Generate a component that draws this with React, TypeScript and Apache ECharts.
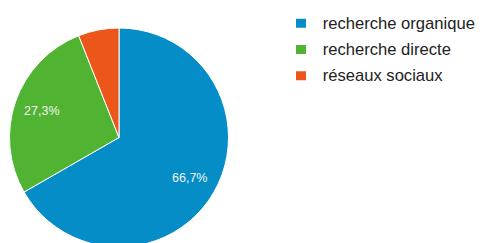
import React, { useEffect, useRef } from "react";
import * as echarts from "echarts";

const categories = ["recherche organique", "recherche directe", "réseaux sociaux"];
const values = [66.7, 27.3, 6.0];
const colors = ["#058dc7", "#50b432", "#ed561b"];

export default function App() {
  const ref = useRef<HTMLDivElement>(null);
  useEffect(() => {
    if (!ref.current) return;
    const chart = echarts.init(ref.current, undefined, { renderer: "svg" });
    const data = categories.map((name, i) => ({
      name,
      value: values[i],
      itemStyle: { color: colors[i] },
    }));
    chart.setOption({
      animation: false,
      backgroundColor: "#ffffff",
      legend: {
        orient: "vertical",
        left: 289,
        top: 9.7,
        icon: "rect",
        itemWidth: 12,
        itemHeight: 11,
        itemGap: 9.3,
        data: categories,
        textStyle: {
          fontFamily: "'Liberation Sans', Arial, sans-serif",
          fontSize: 16.6,
          lineHeight: 16,
          color: "#222222",
          padding: [0, 0, 0, 10.7],
        },
      },
      series: [
        {
          type: "pie",
          center: [119, 137.5],
          radius: [0, 109.5],
          startAngle: 90,
          clockwise: true,
          silent: true,
          label: { show: false },
          labelLine: { show: false },
          itemStyle: { borderColor: "#ffffff", borderWidth: 1 },
          data,
        },
        {
          type: "pie",
          center: [119, 137.5],
          radius: [48, 109.5],
          startAngle: 90,
          clockwise: true,
          silent: true,
          minShowLabelAngle: 30,
          legendHoverLink: false,
          itemStyle: { color: "rgba(0,0,0,0)", borderWidth: 0 },
          label: {
            show: true,
            position: "inside",
            formatter: (p: any) => p.value.toFixed(1).replace(".", ",") + "%",
            color: "#f4f4f4",
            fontFamily: "'Liberation Sans', Arial, sans-serif",
            fontSize: 12.5,
          },
          labelLine: { show: false },
          data: categories.map((name, i) => ({ name: name + " ", value: values[i] })),
        },
      ],
    });
    return () => chart.dispose();
  }, []);
  return (
    <div
      ref={ref}
      style={{ position: "fixed", left: 0, top: 0, width: 485, height: 243 }}
    />
  );
}
